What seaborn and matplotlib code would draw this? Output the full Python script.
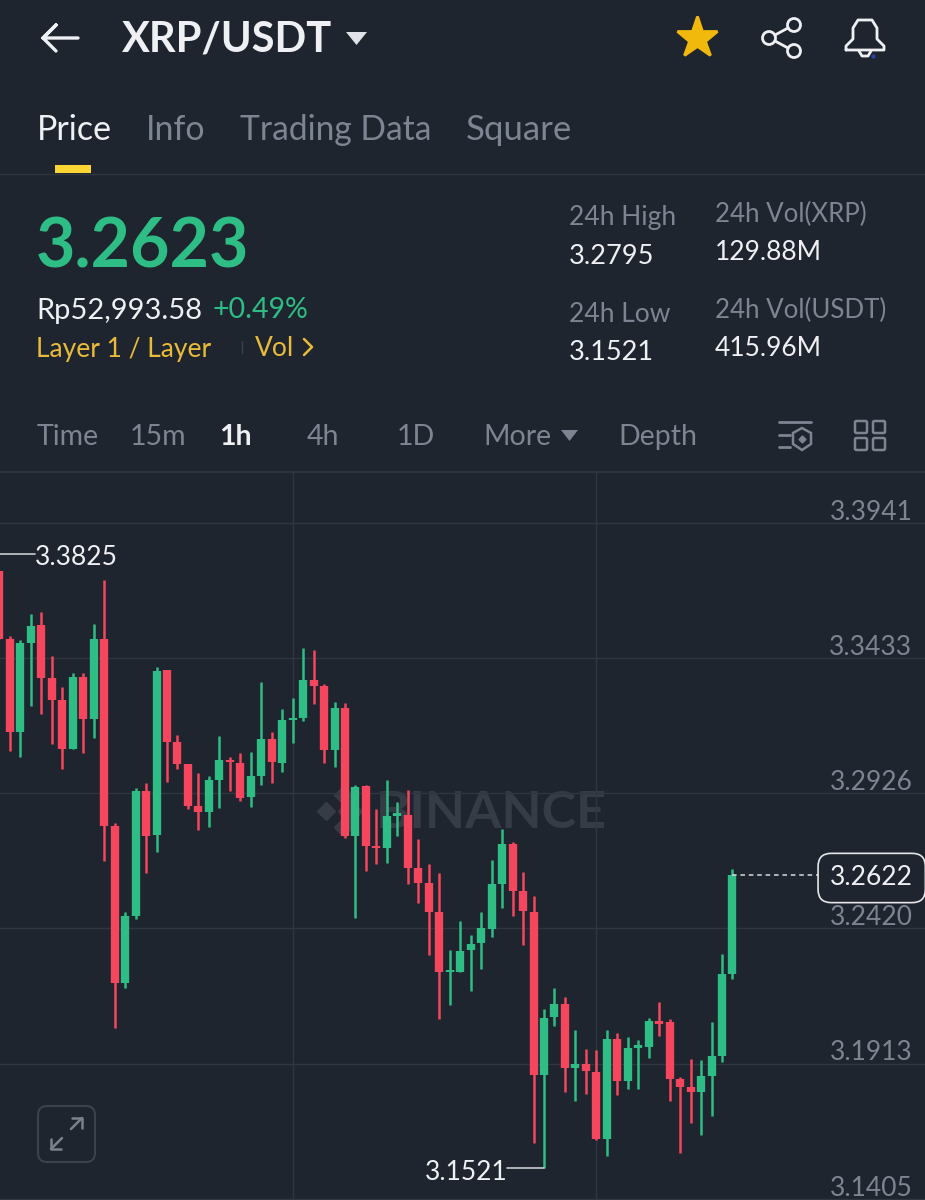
import matplotlib
matplotlib.use("Agg")
import matplotlib.pyplot as plt
import pandas as pd
import seaborn as sns
from matplotlib.patches import FancyBboxPatch, Circle, Rectangle, Polygon
from matplotlib.transforms import ScaledTranslation

BG = "#1f252f"
GRID = "#2f3640"
UP = "#2ebd85"
DOWN = "#f6465d"
GREY = "#7d8592"
WHITE = "#eef0f3"
GOLD = "#f0b90b"
YELLOW = "#e9bb3a"

# --------------------------------   candles (1h XRP/USDT)   --------------------------------

opens = [3.3761, 3.3506, 3.3158, 3.3491, 3.3557, 3.3359, 3.3277, 3.3092, 3.3364, 3.3207,
         3.3506, 3.2805, 3.2215, 3.2465, 3.2937, 3.2771, 3.3389, 3.3119, 3.3036, 3.2880,
         3.2857, 3.2975, 3.3052, 3.3040, 3.2911, 3.2992, 3.3130, 3.3042, 3.3200, 3.3210,
         3.3350, 3.3331, 3.3090, 3.3247, 3.2768, 3.2955, 3.2729, 3.2723, 3.2843, 3.2845,
         3.2647, 3.2590, 3.2481, 3.2257, 3.2256, 3.2337, 3.2366, 3.2419, 3.2588, 3.2738,
         3.2560, 3.2483, 3.1871, 3.2087, 3.2138, 3.1895, 3.1911, 3.1881, 3.1631, 3.2006,
         3.1849, 3.1973, 3.1975, 3.2074, 3.2067, 3.1855, 3.1825, 3.1808, 3.1865, 3.1940,
         3.2247]
closes = [3.3506, 3.3158, 3.3490, 3.3556, 3.3359, 3.3277, 3.3092, 3.3364, 3.3206, 3.3506,
          3.2805, 3.2215, 3.2465, 3.2937, 3.2768, 3.3387, 3.3119, 3.3036, 3.2880, 3.2857,
          3.2975, 3.3052, 3.3044, 3.2909, 3.2992, 3.3130, 3.3044, 3.3200, 3.3211, 3.3350,
          3.3330, 3.3090, 3.3247, 3.2767, 3.2952, 3.2729, 3.2720, 3.2843, 3.2851, 3.2648,
          3.2590, 3.2481, 3.2256, 3.2265, 3.2336, 3.2363, 3.2420, 3.2587, 3.2738, 3.2560,
          3.2485, 3.1871, 3.2085, 3.2138, 3.1895, 3.1911, 3.1884, 3.1631, 3.2006, 3.1849,
          3.1973, 3.1981, 3.2074, 3.2063, 3.1855, 3.1825, 3.1807, 3.1865, 3.1940, 3.2247,
          3.2622]
highs = [3.3761, 3.3517, 3.3502, 3.3600, 3.3605, 3.3442, 3.3327, 3.3377, 3.3377, 3.3562,
         3.3725, 3.2815, 3.2480, 3.2947, 3.2967, 3.3402, 3.3390, 3.3147, 3.3036, 3.3002,
         3.2990, 3.3140, 3.3062, 3.3077, 3.3080, 3.3346, 3.3156, 3.3242, 3.3284, 3.3473,
         3.3465, 3.3337, 3.3270, 3.3265, 3.2956, 3.2959, 3.2869, 3.2977, 3.2894, 3.2940,
         3.2756, 3.2661, 3.2627, 3.2337, 3.2446, 3.2396, 3.2483, 3.2677, 3.2794, 3.2744,
         3.2633, 3.2540, 3.2117, 3.2196, 3.2161, 3.2037, 3.1967, 3.1962, 3.2040, 3.2027,
         3.2012, 3.2000, 3.2084, 3.2142, 3.2081, 3.1861, 3.1930, 3.1925, 3.2067, 3.2324,
         3.2644]
lows = [3.3506, 3.3087, 3.3062, 3.3255, 3.3224, 3.3112, 3.3017, 3.3092, 3.3077, 3.3136,
        3.2671, 3.2046, 3.2197, 3.2457, 3.2627, 3.2708, 3.2969, 3.3017, 3.2867, 3.2790,
        3.2800, 3.2871, 3.2936, 3.2896, 3.2877, 3.2959, 3.2967, 3.3005, 3.3115, 3.3199,
        3.3262, 3.3042, 3.3027, 3.2759, 3.2459, 3.2637, 3.2662, 3.2667, 3.2767, 3.2587,
        3.2515, 3.2321, 3.2080, 3.2131, 3.2256, 3.2186, 3.2269, 3.2387, 3.2497, 3.2467,
        3.2356, 3.1615, 3.1521, 3.2055, 3.1806, 3.1771, 3.1799, 3.1625, 3.1565, 3.1796,
        3.1819, 3.1819, 3.1934, 3.2017, 3.1771, 3.1577, 3.1690, 3.1645, 3.1717, 3.1920,
        3.2230]

price_ticks = [3.3941, 3.3433, 3.2926, 3.2420, 3.1913, 3.1405]
time_ticks = [28, 57]
last_price = 3.2622
day_high = 3.3825
day_low = 3.1521

df = pd.DataFrame({"open": opens, "close": closes, "high": highs, "low": lows})
df["idx"] = range(len(df))
df["side"] = ["up" if c >= o else "down" for o, c in zip(df["open"], df["close"])]

wicks = df.melt(id_vars=["idx", "side"], value_vars=["low", "high"], value_name="price")
bodies = df.melt(id_vars=["idx", "side"], value_vars=["open", "close"], value_name="price")

sns.set_theme(style="dark", rc={"figure.facecolor": BG, "axes.facecolor": BG})
plt.rcParams["font.family"] = ["Lato", "DejaVu Sans"]

fig = plt.figure(figsize=(9.25, 12), dpi=100)

# --------------------------------   app chrome, in pixels   --------------------------------

hud = fig.add_axes([0, 0, 1, 1], zorder=0)
hud.set_xlim(0, 925)
hud.set_ylim(1200, 0)
hud.axis("off")


def label(x, y, s, size, color=GREY, weight="normal", ha="left"):
    hud.text(x, y, s, fontsize=size, color=color, weight=weight, ha=ha, va="center")


def stroke(xs, ys, color=WHITE, lw=2.0):
    hud.plot(xs, ys, color=color, lw=lw, solid_capstyle="round", solid_joinstyle="round")


stroke([78, 43, 56, 43, 56], [38, 38, 25, 38, 51], lw=2.4)
label(122, 39, "XRP/USDT", 30, WHITE, "bold")
hud.add_patch(Polygon([(346, 32), (367, 32), (356.5, 45)], color="#dfe2e6", lw=0))

hud.plot(697, 38, marker="*", ms=31, color=GOLD, mec=GOLD, mew=2, ls="")
for cx, cy in [(769, 38), (794, 25), (794, 51)]:
    hud.add_patch(Circle((cx, cy), 6.5, fc="none", ec=WHITE, lw=2.0))
stroke([775, 788], [35, 28])
stroke([775, 788], [41, 48])
stroke([846, 846, 853, 853, 858, 872, 877, 877, 884, 884, 846],
       [50, 46, 39, 28, 20, 20, 28, 39, 46, 50, 50])
stroke([859, 862, 868, 871], [51, 56, 56, 51])
hud.plot(873, 56, marker="o", ms=2, color="#2a44a8")

label(37, 130, "Price", 24.5, WHITE)
label(146, 130, "Info", 24.5)
label(240, 130, "Trading Data", 24.2)
label(466, 130, "Square", 25)
hud.add_patch(Rectangle((55, 165), 36, 8, color="#fcd535", lw=0))
hud.plot([0, 925], [173.5, 173.5], color=GRID, lw=1)

label(36, 248, "3.2623", 49, UP, "bold")
label(36, 310.5, "Rp52,993.58", 21, WHITE)
label(212, 310.5, "+0.49%", 20.5, UP)
label(36, 349, "Layer 1 / Layer", 19, YELLOW)
hud.plot([242, 242], [341, 353], color="#3c424c", lw=1)
label(255, 349, "Vol", 19, YELLOW)
stroke([304, 312, 304], [339, 347, 355], YELLOW, 1.8)

label(569, 217.5, "24h High", 19, GREY)
label(569, 256, "3.2795", 19.5, WHITE)
label(569, 315, "24h Low", 19, GREY)
label(569, 353, "3.1521", 19.5, WHITE)
label(715, 214, "24h Vol(XRP)", 18.6, GREY)
label(715, 252, "129.88M", 19, WHITE)
label(715, 310, "24h Vol(USDT)", 18.6, GREY)
label(715, 349, "415.96M", 19, WHITE)

label(37, 437, "Time", 20.5)
label(130, 437, "15m", 20.5)
label(219, 437, "1h", 20.5, WHITE, "bold")
label(307, 437, "4h", 20.5)
label(397, 437, "1D", 20.5)
label(483, 437, "More", 20.5)
hud.add_patch(Polygon([(561, 430), (578, 430), (569.5, 441)], color=GREY, lw=0))
label(618, 437, "Depth", 20.5)

stroke([779, 811], [422, 422], GREY)
stroke([779, 790], [435, 435], GREY)
stroke([779, 790], [447, 447], GREY)
hud.add_patch(Polygon([(802, 428), (811, 433), (811, 444), (802, 450), (793, 444), (793, 433)],
                      fc="none", ec=GREY, lw=1.8))
hud.plot(802, 439, marker="D", ms=3.5, color=GREY)
for gx in (855, 873):
    for gy in (421, 438):
        hud.add_patch(FancyBboxPatch((gx, gy), 12, 12, boxstyle="round,pad=0,rounding_size=1.5",
                                     fc="none", ec=GREY, lw=1.8))

# watermark
for mx, my in [(343, 795), (326, 811), (343, 827)]:
    hud.plot(mx, my, marker="D", ms=9, color="#363c46")
hud.plot(350, 811, marker="D", ms=12, color="#363c46")
label(376, 813, "BINANCE", 37.5, "#363c46", "bold")

hud.add_patch(FancyBboxPatch((38, 1106), 57, 56, boxstyle="round,pad=0,rounding_size=9",
                             fc="none", ec="#3b424d", lw=1.5))
stroke([51, 62], [1149, 1138], "#79818d", 1.8)
stroke([51, 51, 61], [1139, 1149, 1149], "#79818d", 1.8)
stroke([71, 82], [1129, 1118], "#79818d", 1.8)
stroke([72, 82, 82], [1118, 1118, 1128], "#79818d", 1.8)

# --------------------------------   candle chart   --------------------------------

# axes start 8px off the left edge, the first candle is cut by the screen edge
ax = fig.add_axes([-8 / 925, 0, 933 / 925, 728 / 1200], zorder=1)
ax.patch.set_alpha(0)

palette = {"up": UP, "down": DOWN}
sns.lineplot(data=wicks, x="idx", y="price", hue="side", units="idx", estimator=None, sort=False,
             palette=palette, linewidth=1.8, legend=False, ax=ax, solid_capstyle="butt")
sns.lineplot(data=bodies, x="idx", y="price", hue="side", units="idx", estimator=None, sort=False,
             palette=palette, linewidth=6.0, legend=False, ax=ax, solid_capstyle="butt")

ax.set_xlim(-0.716, 88.39)
ax.set_ylim(3.1401, 3.4132)
ax.set_xlabel("")
ax.set_ylabel("")
sns.despine(ax=ax, left=True, bottom=True)
ax.spines["top"].set_visible(True)
ax.spines["top"].set_color(GRID)

ax.set_xticks(time_ticks)
ax.set_xticklabels([])
ax.set_yticks(price_ticks)
ax.set_yticklabels([f"{p:.4f}" for p in price_ticks])
ax.yaxis.tick_right()
ax.grid(True, color=GRID, lw=1)
ax.set_axisbelow(True)
ax.tick_params(axis="x", length=0)
ax.tick_params(axis="y", length=0, pad=-9, labelsize=19, labelcolor=GREY)
nudge = ScaledTranslation(0, -1.2 / 72, fig.dpi_scale_trans)
for tick in ax.yaxis.get_major_ticks():
    tick.label2.set_ha("right")
    tick.label2.set_va("bottom")
    tick.label2.set_transform(tick.label2.get_transform() + nudge)

ax.plot([0.048, 3.39], [day_high, day_high], color="#c9ccd1", lw=1.2)
ax.annotate(f"{day_high:.4f}", xy=(3.39, day_high), xytext=(0, -2.5), textcoords="offset points",
            ha="left", va="center", color=WHITE, fontsize=19)
ax.plot([48.5, 52], [day_low, day_low], color="#c9ccd1", lw=1.2)
ax.annotate(f"{day_low:.4f}", xy=(48.5, day_low), xytext=(0, -3), textcoords="offset points",
            ha="right", va="center", color=WHITE, fontsize=19)

ax.plot([70, 78.2], [last_price, last_price], color="#d8dadd", lw=1.1, ls=(0, (3, 2.5)))
ax.annotate(f"{last_price:.4f}", xy=(83.3, last_price), xytext=(0, -2.5), textcoords="offset points",
            ha="center", va="center", color=WHITE, fontsize=19,
            bbox=dict(boxstyle="round,pad=0.46,rounding_size=0.5", fc=BG, ec="#e4e6e9", lw=1.2))

fig.savefig("out.png", dpi=100, facecolor=BG)
